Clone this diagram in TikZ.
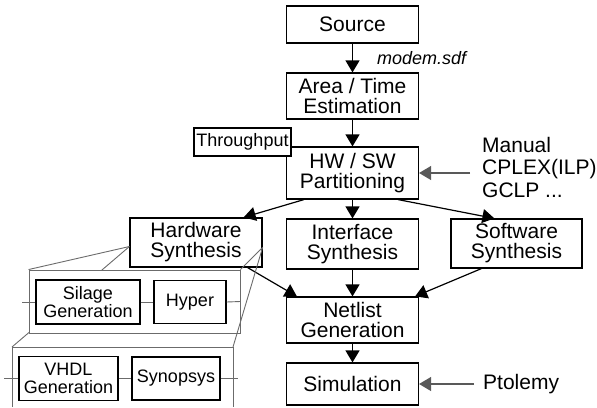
\documentclass[tikz,border=0pt]{standalone}
\usepackage{fontspec}
\setmainfont{Liberation Sans}
\usetikzlibrary{arrows.meta,calc}
\newcommand\mainsz{\fontsize{21}{20}\selectfont}
\newcommand\subsz{\fontsize{18}{18}\selectfont}
\newcommand\optsz{\fontsize{21}{22.5}\selectfont}
\definecolor{framegray}{gray}{0.42}
\definecolor{feedgray}{gray}{0.35}
\tikzset{
  box/.style={draw, line width=1.2pt, fill=white, inner sep=0pt, align=center, font=\mainsz},
  subbox/.style={draw, line width=1.1pt, fill=white, inner sep=0pt, align=center, font=\subsz},
  flow/.style={line width=1.2pt, -{Triangle[length=12pt,width=14pt]}},
  feed/.style={feedgray, line width=1.2pt, -{Triangle[length=12pt,width=14pt]}},
  panel/.style={draw=framegray, line width=0.9pt},
  stub/.style={framegray, line width=0.9pt},
}
\begin{document}
\begin{tikzpicture}[x=1pt,y=-1pt]
\useasboundingbox (0,0) rectangle (597,407);

% main design flow
\node[box, minimum width=132pt, minimum height=37pt] (src) at (352.5,24.5) {Source};
\node[box, minimum width=132pt, minimum height=46pt] (est) at (352.5,96) {Area / Time\\Estimation};
\node[box, minimum width=132pt, minimum height=52pt] (part) at (352.5,173) {HW / SW\\Partitioning};
\node[box, font=\subsz, minimum width=97pt, minimum height=28pt] (thr) at (242.5,142) {Throughput};
\node[box, minimum width=132pt, minimum height=49pt] (hw) at (196,242.5) {Hardware\\Synthesis};
\node[box, minimum width=132pt, minimum height=50pt] (ifc) at (352.5,244) {Interface\\Synthesis};
\node[box, minimum width=131pt, minimum height=49pt] (sw) at (516.5,243.5) {Software\\Synthesis};
\node[box, minimum width=132pt, minimum height=46pt] (net) at (352.5,320) {Netlist\\Generation};
\node[box, minimum width=132pt, minimum height=42pt] (sim) at (352.5,384) {Simulation};

\node[font=\subsz\itshape, anchor=base west, inner sep=0pt] (sdf) at (377,64) {modem.sdf};
\node[font=\optsz, align=left, anchor=west, inner xsep=12pt, inner ysep=0pt] (opt) at (470,167)
  {Manual\\CPLEX(ILP)\\GCLP ...};
\node[font=\mainsz, anchor=base west, inner xsep=9pt, inner ysep=0pt] (pto) at (474,389) {Ptolemy};

\draw[flow] (src) -- (est);
\draw[flow] (est) -- (part);
\draw[flow] (part) -- (ifc);
\draw[flow] ($(part.south west)+(18,0)$) -- ($(hw.north east)+(-19,0)$);
\draw[flow] ($(part.south east)+(-21,0)$) -- ($(sw.north west)+(44,0)$);
\draw[flow] ($(hw.south east)+(-15,0)$) -- ($(net.north west)+(11,0)$);
\draw[flow] (ifc) -- (net);
\draw[flow] ($(sw.south west)+(31,0)$) -- ($(net.north east)+(-4,0)$);
\draw[flow] (net) -- (sim);
\draw[feed] (opt.west |- part.east) -- (part.east);
\draw[feed] (pto.west |- sim.east) -- (sim.east);

% refinement of the hardware synthesis step
\coordinate (hwL) at ($(hw.south west)!0.42!(hw.north west)$);
\coordinate (hwR) at ($(hw.south east)!0.40!(hw.north east)$);
\coordinate (p2nw) at (12,347);
\coordinate (p2ne) at (233,347);
\coordinate (p2sw) at (12,407);
\coordinate (p2se) at (233,407);
\draw[panel] (p2sw) -- (p2nw) -- (p2ne) -- (p2se);
\draw[stub] (hwL) -- (p2nw);

\node[panel, fill=white, minimum width=211pt, minimum height=63pt, inner sep=0pt] (pan1) at (134.5,301.5) {};
\draw[stub] (hwL) -- (pan1.north west);
\draw[stub] (hwR) -- (pan1.north east);
\draw[stub] (hwR) -- (p2ne);

\node[subbox, minimum width=104pt, minimum height=44pt] (sil) at (88,302) {Silage\\Generation};
\node[subbox, minimum width=72pt, minimum height=43pt] (hyp) at (190,302) {Hyper};
\coordinate (p1in) at (22,302);
\draw[stub] (p1in) -- (sil.west);
\draw[stub] (sil.east) -- (hyp.west);
\draw[stub] (hyp.east) -- (pan1.east);

\node[subbox, minimum width=99pt, minimum height=44pt] (vhdl) at (68.5,378.5) {VHDL\\Generation};
\node[subbox, minimum width=88pt, minimum height=43pt] (syn) at (176,378.5) {Synopsys};
\coordinate (p2in) at (4,378.5);
\coordinate (p2out) at (238,378.5);
\draw[stub] (p2in) -- (vhdl.west);
\draw[stub] (vhdl.east) -- (syn.west);
\draw[stub] (syn.east) -- (p2out);
\end{tikzpicture}
\end{document}
